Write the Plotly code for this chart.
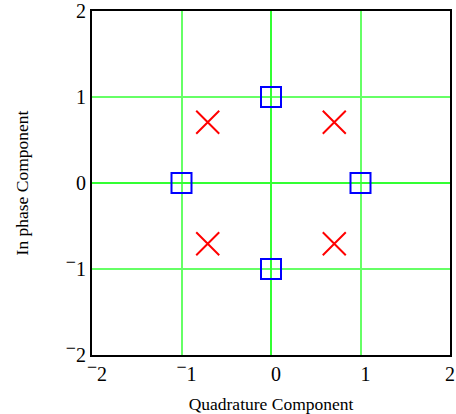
import plotly.graph_objects as go

# QPSK (squares) and rotated constellation (crosses)
qpsk_x = [0, 1, 0, -1]
qpsk_y = [1, 0, -1, 0]
rot_x = [0.707, -0.707, -0.707, 0.707]
rot_y = [0.707, 0.707, -0.707, -0.707]

tick_vals = [-2, -1, 0, 1, 2]
MINUS = "<sup><span style='font-size:18px'>\u2212</span></sup>"
y_tick_text = [MINUS + "2", MINUS + "1", "0", "1", "2"]
x_tick_text = ["\u00a0\u00a0" + MINUS + "2", "\u00a0\u00a0" + MINUS + "1", "\u00a0\u00a00", "\u00a0\u00a01", "2"]

font = "Liberation Serif, Times New Roman, serif"

fig = go.Figure()
fig.add_trace(go.Scatter(
    x=qpsk_x, y=qpsk_y, mode="markers",
    marker=dict(symbol="square-open", size=20, color="#0000ff",
                line=dict(width=2, color="#0000ff")),
    showlegend=False))
fig.add_trace(go.Scatter(
    x=rot_x, y=rot_y, mode="markers",
    marker=dict(symbol="x-thin", size=23, color="#ff0000",
                line=dict(width=2, color="#ff0000")),
    showlegend=False))

axis_common = dict(
    range=[-2, 2], tickvals=tick_vals,
    showgrid=True, gridcolor="#66ff66", gridwidth=1.5,
    zeroline=True, zerolinecolor="#33ff33", zerolinewidth=1.5,
    showline=True, linecolor="black", linewidth=2, mirror=True,
    ticks="", tickfont=dict(family=font, size=20, color="black"),
    automargin=False,
)

fig.update_xaxes(**axis_common, ticktext=x_tick_text,
                 title=dict(text="Quadrature Component", font=dict(family=font, size=17.5, color="black"),
                            standoff=18))
fig.update_yaxes(**axis_common, ticktext=y_tick_text,
                 title=dict(text="In phase Component", font=dict(family=font, size=17.5, color="black"),
                            standoff=33))

fig.update_layout(
    width=456, height=414,
    margin=dict(l=92, r=6, t=11, b=59),
    plot_bgcolor="white", paper_bgcolor="white",
)

fig.write_html("out.html")
